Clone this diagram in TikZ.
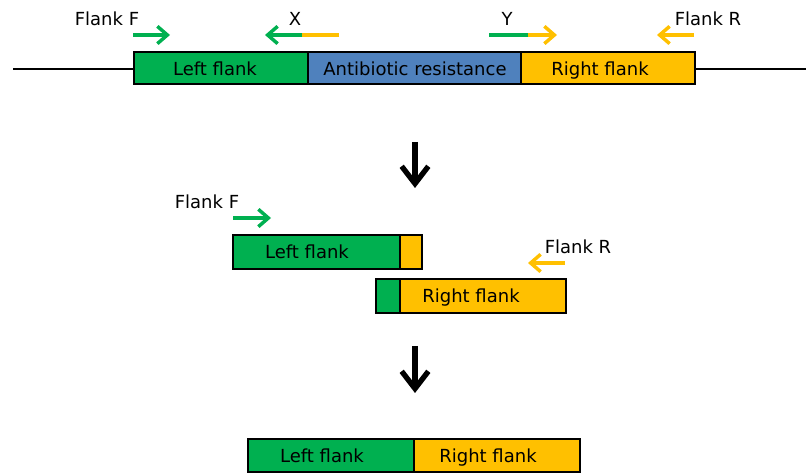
\documentclass[tikz,border=0pt]{standalone}
\usepackage{fontspec}
\setmainfont{DejaVu Sans}
\usetikzlibrary{arrows.meta}

\definecolor{flankgreen}{RGB}{0,176,80}
\definecolor{resblue}{RGB}{79,129,189}
\definecolor{flankorange}{RGB}{255,192,0}

\tikzset{
    seg/.style = {draw = black, line width = 1.4pt},
    txt/.style = {font = \fontsize{13.5}{15}\selectfont, inner sep = 0pt,
        text height = 9.9pt, text depth = 0pt},
    primerline/.style = {line width = 2.6pt},
    primer/.style = {primerline, -{Straight Barb[length = 7.5pt, width = 13pt]}},
    stepdown/.style = {line width = 4pt, -{Straight Barb[length = 13pt, width = 20pt]}}
}

\begin{document}
\begin{tikzpicture}[x = 0.75pt, y = -0.75pt]
    \useasboundingbox (0, 0) rectangle (806, 473);

    % construct with resistance cassette
    \draw[line width = 1pt] (13, 69) coordinate(lineL) -- (806, 69) coordinate(lineR);
    \draw[seg, fill = flankgreen] (134, 52) rectangle (308, 84);
    \draw[seg, fill = resblue] (308, 52) rectangle (521, 84);
    \draw[seg, fill = flankorange] (521, 52) rectangle (695, 84);
    \node[txt] (leftA) at (215, 69) {Left flank};
    \node[txt] (resA) at (415, 69) {Antibiotic resistance};
    \node[txt] (rightA) at (600, 69) {Right flank};

    % primers
    \node[txt] (flankF) at (107, 19) {Flank F};
    \draw[primer, flankgreen] (133, 35) coordinate(fF) -- ++(37, 0);
    \node[txt] (primX) at (295, 19) {X};
    \draw[primerline, flankorange] (339, 35) -- (302, 35) coordinate(xJ);
    \draw[primer, flankgreen] (xJ) -- ++(-37, 0);
    \node[txt] (primY) at (507, 19) {Y};
    \draw[primerline, flankgreen] (489, 35) -- (528, 35) coordinate(yJ);
    \draw[primer, flankorange] (yJ) -- ++(29, 0);
    \node[txt] (flankR) at (708, 19) {Flank R};
    \draw[primer, flankorange] (694, 35) coordinate(fR) -- ++(-37, 0);

    \draw[stepdown] (415, 142) coordinate(stepA) -- (415, 188);

    % two PCR products
    \node[txt] (flankF2) at (207, 202) {Flank F};
    \draw[primer, flankgreen] (233, 218) coordinate(fF2) -- ++(38, 0);
    \draw[seg, fill = flankgreen] (233, 235) rectangle (400, 269);
    \draw[seg, fill = flankorange] (400, 235) rectangle (422, 269);
    \node[txt] (leftB) at (307, 252) {Left flank};

    \node[txt] (flankR2) at (578, 247) {Flank R};
    \draw[primer, flankorange] (565, 263) coordinate(fR2) -- ++(-37, 0);
    \draw[seg, fill = flankgreen] (376, 279) rectangle (400, 313);
    \draw[seg, fill = flankorange] (400, 279) rectangle (566, 313);
    \node[txt] (rightB) at (471, 296) {Right flank};

    \draw[stepdown] (415, 346) coordinate(stepB) -- (415, 393);

    % fused product
    \draw[seg, fill = flankgreen] (248, 439) rectangle (414, 472);
    \draw[seg, fill = flankorange] (414, 439) rectangle (580, 472);
    \node[txt] (leftC) at (322, 456) {Left flank};
    \node[txt] (rightC) at (488, 456) {Right flank};
\end{tikzpicture}
\end{document}
